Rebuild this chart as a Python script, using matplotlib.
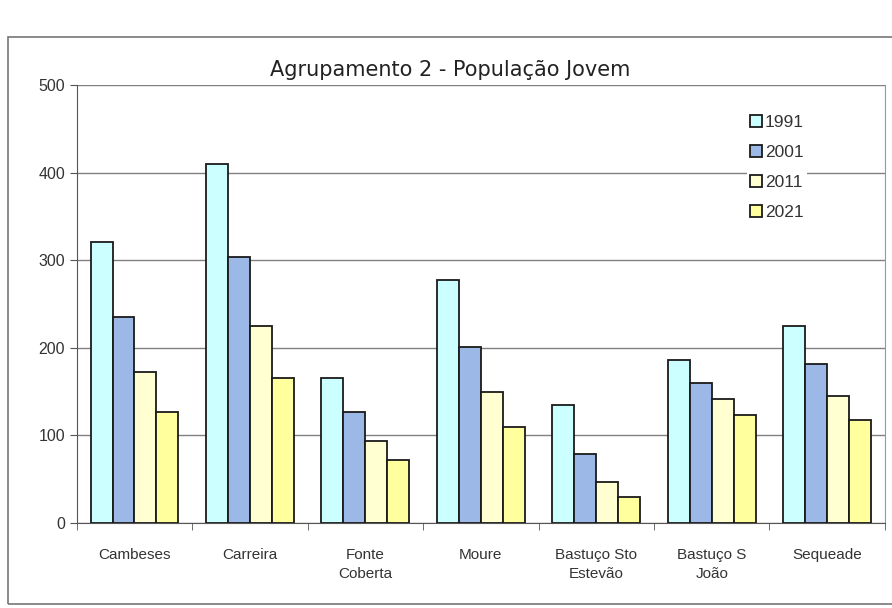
import matplotlib.pyplot as plt
import numpy as np
from matplotlib.patches import Rectangle

categories = ["Cambeses", "Carreira", "Fonte\nCoberta", "Moure",
              "Bastuço Sto\nEstevão", "Bastuço S\nJoão", "Sequeade"]
years = ["1991", "2001", "2011", "2021"]
v1991 = [321, 410, 166, 277, 135, 186, 225]
v2001 = [235, 304, 127, 201, 79, 160, 181]
v2011 = [172, 225, 94, 150, 47, 141, 145]
v2021 = [127, 165, 72, 110, 29, 123, 118]
colors = ["#CCFFFF", "#9BB8E6", "#FFFFD2", "#FFFF9E"]

plt.rcParams['font.family'] = ['Liberation Sans', 'DejaVu Sans']

fig = plt.figure(figsize=(8.92, 6.08), dpi=100)
ax = fig.add_axes([0.086, 0.14, 0.906, 0.72])

x = np.arange(len(categories))
w = 0.19
series = [v1991, v2001, v2011, v2021]
for i, vals in enumerate(series):
    ax.bar(x + (i - 1.5) * w, vals, w, color=colors[i], edgecolor="#1a1a1a",
           linewidth=1.3, label=years[i], zorder=3)

ax.set_xlim(-0.5, len(categories) - 0.5)
ax.set_ylim(0, 500)
ax.set_yticks(range(0, 501, 100))
ax.yaxis.grid(True, color="#808080", linewidth=1.0, zorder=0)
ax.tick_params(axis="y", labelsize=11.5, length=5, color="#555555", labelcolor="#333333")
ax.set_xticks(x)
ax.set_xticklabels(categories, fontsize=11, color="#333333", linespacing=1.5)
ax.tick_params(axis="x", length=0, pad=18)
ax.set_xticks(np.arange(len(categories) + 1) - 0.5, minor=True)
ax.tick_params(axis="x", which="minor", length=5, color="#555555")
ax.spines["top"].set_visible(False)
ax.spines["right"].set_color("#999999")
ax.spines["left"].set_color("#555555")
ax.spines["bottom"].set_color("#555555")

leg = ax.legend(loc="upper right", bbox_to_anchor=(0.915, 0.96), frameon=True,
                fontsize=12.5, handlelength=0.7, handleheight=0.7,
                handletextpad=0.15, labelspacing=0.85, borderpad=0.2)
leg.get_frame().set_edgecolor("none")
leg.get_frame().set_facecolor("white")
leg.get_frame().set_alpha(1)
for t in leg.get_texts():
    t.set_color("#333333")

fig.text(0.505, 0.885, "Agrupamento 2 - População Jovem", ha="center",
         va="center", fontsize=15, family=["DejaVu Sans"], color="#222222")

fig.add_artist(Rectangle((0.009, 0.006), 1.2, 0.933, transform=fig.transFigure,
                         fill=False, edgecolor="#777777", linewidth=1.2))

fig.savefig("out.png", dpi=100)
